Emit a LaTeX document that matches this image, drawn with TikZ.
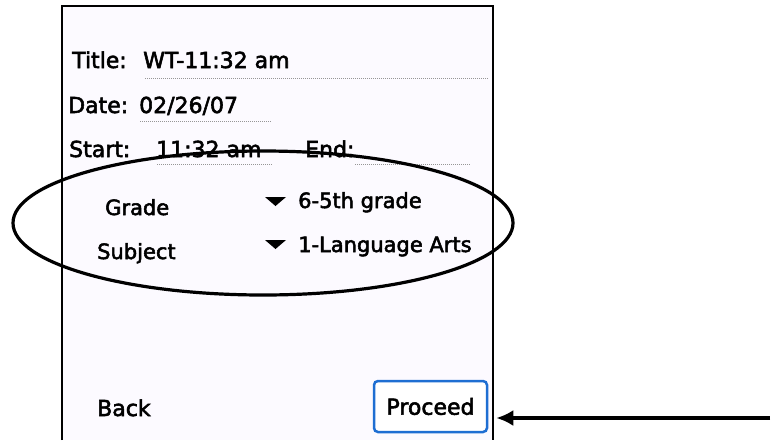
\documentclass[tikz,border=0pt]{standalone}
\usepackage{fontspec}
\setmainfont{DejaVu Sans}[FakeBold=2.5]
\usetikzlibrary{arrows.meta}

\definecolor{panelbg}{RGB}{252,250,255}
\definecolor{dotgray}{RGB}{150,150,150}
\definecolor{palmblue}{RGB}{30,110,210}

\begin{document}
\begin{tikzpicture}[%
        > = Latex,
        x = 1pt,
        y = -1pt,
        palm/.style = {font=\fontsize{22}{26}\selectfont, inner sep=0pt, anchor=base west},
        palmlow/.style = {palm, font=\fontsize{21}{25}\selectfont},
        dotline/.style = {dotgray, line width=1pt, dash pattern=on 1pt off 1pt}
    ]

        \useasboundingbox (0, 0) rectangle (774, 440);

        % The screen of the handheld.
        \fill[panelbg] (62, 6) rectangle (493, 440);
        \draw[line width=2pt] (62, 440) -- (62, 6) -- (493, 6) -- (493, 440);

        % Header fields and their dotted lines.
        \node[palm] (title) at (72, 68) {Title:};
        \node[palm] (titleval) at (143, 68) {WT-11:32 am};
        \draw[dotline] (145, 78) -- (488, 78);

        \node[palm] (date) at (68, 113) {Date:};
        \node[palm] (dateval) at (139, 113) {02/26/07};
        \draw[dotline] (140, 121) -- (272, 121);

        \node[palm] (start) at (69, 157) {Start:};
        \node[palm] (startval) at (156, 157) {11:32 am};
        \node[palm] (endlbl) at (305, 157) {End:};
        \draw[dotline] (157, 164) -- (272, 164);
        \draw[dotline] (355, 164) -- (470, 164);

        % Pop-up lists.
        \node[palmlow] (grade) at (105, 215) {Grade};
        \node[palmlow] (gradeval) at (298, 208) {6-5th grade};
        \fill (265, 197) -- (286, 197) -- (275.5, 206) -- cycle;

        \node[palmlow] (subject) at (97, 259) {Subject};
        \node[palmlow] (subjectval) at (298, 252) {1-Language Arts};
        \fill (265, 240) -- (286, 240) -- (275.5, 249) -- cycle;

        % Buttons.
        \node[palm] (back) at (97, 416) {Back};
        \node[%
            draw = palmblue,
            fill = white,
            line width = 2.5pt,
            rounded corners = 4pt,
            minimum width = 113pt,
            minimum height = 51pt,
            font = \fontsize{22}{26}\selectfont
        ] (proceed) at (430.5, 406.5) {Proceed};
        \draw[palmblue, line width=2pt] ([xshift=5pt, yshift=1.5pt]proceed.south west)
            -- ([xshift=-5pt, yshift=1.5pt]proceed.south east);

        % Highlight ring round the lists.
        \draw[line width=3.2pt] (263, 223) ellipse (250 and 72);

        % Arrow pointing at the button.
        \coordinate (tail) at (770, 418);
        \draw[->, line width=4pt, -{Latex[length=17pt, width=16pt]}]
            (tail) -- ([xshift=8pt]proceed.east |- tail);
    \end{tikzpicture}
\end{document}
